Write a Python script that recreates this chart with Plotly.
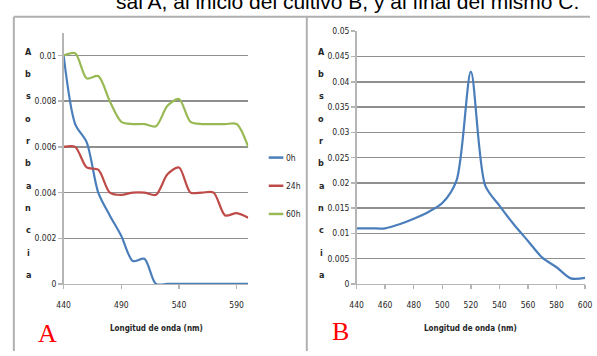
import plotly.graph_objects as go

# ---------------- data ----------------
wl_a = [440, 450, 460, 470, 480, 490, 500, 510, 520, 530, 540, 550, 560, 570, 580, 590, 600]
abs_0h = [0.0100, 0.0070, 0.0062, 0.0040, 0.0030, 0.0021, 0.0010, 0.0011, 0.0000, 0.0000,
          0.0000, 0.0000, 0.0000, 0.0000, 0.0000, 0.0000, 0.0000]
abs_24h = [0.0060, 0.0060, 0.0051, 0.0050, 0.0040, 0.0039, 0.0040, 0.0040, 0.0039, 0.0048,
           0.0051, 0.0040, 0.0040, 0.0040, 0.0030, 0.0031, 0.0029]
abs_60h = [0.0100, 0.0101, 0.0090, 0.0091, 0.0080, 0.0071, 0.0070, 0.0070, 0.0069, 0.0078,
           0.0081, 0.0071, 0.0070, 0.0070, 0.0070, 0.0070, 0.0060]
series_names = ["0h", "24h", "60h"]
series_colors = ["#4a7ebb", "#be4b48", "#98b954"]

wl_b = [440, 450, 460, 470, 480, 490, 500, 510, 520, 530, 540, 550, 560, 570, 580, 590, 600]
abs_b = [0.0110, 0.0110, 0.0110, 0.0118, 0.0129, 0.0142, 0.0160, 0.0205, 0.0420, 0.0195,
         0.0155, 0.0118, 0.0085, 0.0052, 0.0033, 0.0011, 0.0012]

ticks_a_x = [440, 490, 540, 590]
ticks_a_y = [0, 0.002, 0.004, 0.006, 0.008, 0.01]
ticklab_a_y = ["0", "0.002", "0.004", "0.006", "0.008", "0.01"]
ticks_b_x = [440, 460, 480, 500, 520, 540, 560, 580, 600]
ticks_b_y = [0, 0.005, 0.01, 0.015, 0.02, 0.025, 0.03, 0.035, 0.04, 0.045, 0.05]
ticklab_b_y = ["0", "0.005", "0.01", "0.015", "0.02", "0.025", "0.03", "0.035", "0.04", "0.045", "0.05"]

caption = "sal A, al inicio del cultivo B, y al final del mismo C."
y_title_letters = "Absorbancia"
x_title = "Longitud de onda (nm)"

# ---------------- layout helpers ----------------
W, H = 597, 356
def px(x):
    return x / W
def py(y):
    return 1 - y / H

NARROW = "DejaVu Sans Condensed, Liberation Sans Narrow, Arial Narrow, sans-serif"
TXT = "#262626"

fig = go.Figure()

for name, col, vals in zip(series_names, series_colors, [abs_0h, abs_24h, abs_60h]):
    fig.add_trace(go.Scatter(x=wl_a, y=vals, mode="lines", name=name,
                             line=dict(color=col, width=2.2, shape="spline", smoothing=0.8),
                             xaxis="x", yaxis="y", showlegend=False, hoverinfo="skip"))

fig.add_trace(go.Scatter(x=wl_b, y=abs_b, mode="lines", name="B",
                         line=dict(color="#4a7ebb", width=2.2, shape="spline", smoothing=0.8),
                         xaxis="x2", yaxis="y2", showlegend=False, hoverinfo="skip"))

axis_common = dict(showline=True, linecolor="#b5b5b5", linewidth=1.5,
                   ticks="outside", ticklen=4, tickcolor="#b5b5b5", tickwidth=1.5,
                   tickfont=dict(family=NARROW, size=8.5, color=TXT), zeroline=False,
                   ticklabeloverflow="allow")

fig.update_layout(
    width=W, height=H,
    margin=dict(l=0, r=0, t=0, b=0),
    paper_bgcolor="white", plot_bgcolor="white",
    xaxis=dict(domain=[px(58), px(247)], range=[440, 600], tickvals=ticks_a_x,
               showgrid=False, anchor="y", ticklabelstandoff=8, **axis_common),
    yaxis=dict(domain=[py(287), py(28.5)], range=[0, 0.011], tickvals=ticks_a_y,
               ticktext=ticklab_a_y, showgrid=True, gridcolor="#8f8f8f", gridwidth=1.5,
               anchor="x", **axis_common),
    xaxis2=dict(domain=[px(358), px(592)], range=[440, 600], tickvals=ticks_b_x,
                showgrid=False, anchor="y2", ticklabelstandoff=8, **axis_common),
    yaxis2=dict(domain=[py(287), py(27)], range=[0, 0.05], tickvals=ticks_b_y,
                ticktext=ticklab_b_y, showgrid=True, gridcolor="#8f8f8f", gridwidth=1.5,
                anchor="x2", **axis_common),
)

shapes = []
# frames
frame = dict(type="line", xref="paper", yref="paper", line=dict(color="#b0b0b0", width=2))
shapes.append(dict(frame, x0=px(7), x1=1, y0=py(12), y1=py(12)))
shapes.append(dict(frame, x0=px(7), x1=px(7), y0=py(12), y1=0))
shapes.append(dict(frame, x0=px(307), x1=px(307), y0=py(12), y1=0))

annotations = []
# caption (cut at top)
annotations.append(dict(text=caption, xref="paper", yref="paper", x=px(110), y=py(10),
                        xanchor="left", yanchor="bottom", showarrow=False,
                        font=dict(family="Liberation Sans, Arial, sans-serif", size=21, color="black")))
# vertical y titles
for xc in (22, 322):
    for i, ch in enumerate(y_title_letters):
        annotations.append(dict(text="<b>%s</b>" % ch, xref="paper", yref="paper",
                                x=px(xc), y=py(48 + i * 23), xanchor="center", yanchor="middle",
                                showarrow=False, font=dict(family=NARROW, size=9, color=TXT)))
# x titles
for xc in (153, 475):
    annotations.append(dict(text="<b>%s</b>" % x_title, xref="paper", yref="paper",
                            x=px(xc), y=py(333), xanchor="center", yanchor="middle",
                            showarrow=False, font=dict(family=NARROW, size=8, color=TXT)))
# panel letters
for lab, xc, yc in (("A", 41, 338), ("B", 341, 336)):
    annotations.append(dict(text=lab, xref="paper", yref="paper", x=px(xc), y=py(yc),
                            xanchor="center", yanchor="middle", showarrow=False,
                            font=dict(family="Liberation Serif, Times New Roman, serif", size=26, color="#ff0000")))
# legend
for i, (name, col) in enumerate(zip(series_names, series_colors)):
    yl = 157 + i * 29
    shapes.append(dict(type="line", xref="paper", yref="paper", x0=px(268), x1=px(283),
                       y0=py(yl), y1=py(yl), line=dict(color=col, width=2.5)))
    annotations.append(dict(text=name, xref="paper", yref="paper", x=px(284), y=py(yl),
                            xanchor="left", yanchor="middle", showarrow=False,
                            font=dict(family=NARROW, size=8.5, color=TXT)))

fig.update_layout(shapes=shapes, annotations=annotations, hovermode=False)

fig.write_html("out.html", config={"displayModeBar": False, "staticPlot": True},
               post_script="document.body.style.margin='0';document.body.style.overflow='hidden';")
